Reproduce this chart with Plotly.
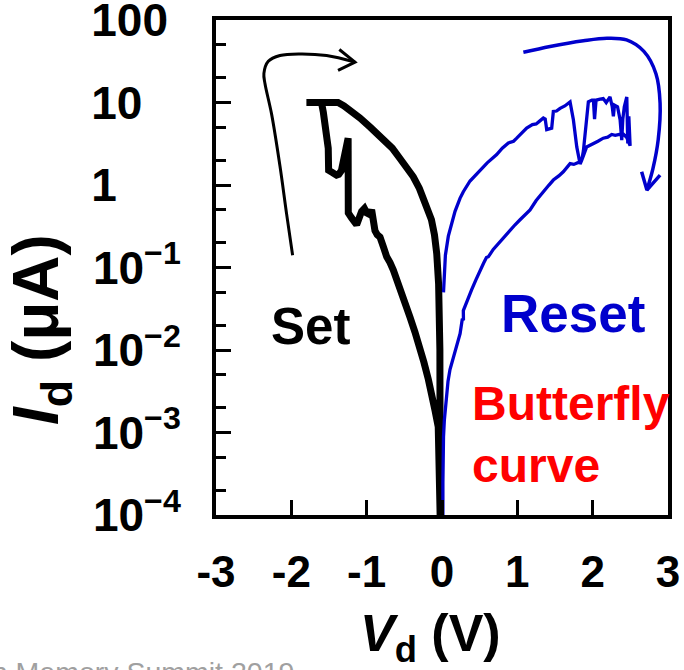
import plotly.graph_objects as go

# ---- data (V in volts, I in µA) ----
set_v = [-0.025, -0.03, -0.05, -0.093, -0.137, -0.181, -0.24, -0.292, -0.36, -0.425, -0.49, -0.558,
         -0.60, -0.646, -0.69, -0.734, -0.78, -0.823, -0.86, -0.89, -0.934, -0.96, -1.0, -1.03, -1.067,
         -1.10, -1.133, -1.2, -1.244, -1.246, -1.27, -1.30, -1.335, -1.37, -1.40, -1.45, -1.505, -1.51,
         -1.53, -1.555, -1.575, -1.60, -1.80, -1.38, -1.30, -1.20, -1.09, -0.95, -0.78, -0.66, -0.558,
         -0.46, -0.381, -0.30, -0.248, -0.20, -0.14, -0.10, -0.07, -0.045, -0.033, -0.028, -0.026, -0.025]
set_i = [0.0001, 0.001, 0.00117, 0.00186, 0.0030, 0.0044, 0.0071, 0.011, 0.0166, 0.025, 0.038, 0.059,
         0.076, 0.093, 0.115, 0.135, 0.18, 0.234, 0.25, 0.28, 0.50, 0.44, 0.46, 0.52, 0.48,
         0.40, 0.33, 0.40, 0.46, 3.7, 2.8, 1.8, 1.5, 1.35, 1.32, 1.41, 1.51, 2.8,
         4.2, 5.6, 7.6, 10.0, 10.0, 10.0, 9.1, 7.9, 6.5, 5.0, 3.6, 2.8, 2.1,
         1.6, 1.26, 0.91, 0.69, 0.51, 0.38, 0.25, 0.148, 0.063, 0.025, 0.01, 0.001, 0.0001]

reset_v = [0.02, 0.03, 0.045, 0.084, 0.13, 0.173, 0.239, 0.283, 0.372, 0.505, 0.60, 0.726, 0.80, 0.881,
           0.95, 0.992, 1.06, 1.124, 1.20, 1.25, 1.30, 1.345, 1.37, 1.39, 1.456, 1.478, 1.52, 1.567,
           1.63, 1.70, 1.744, 1.789, 1.833, 1.855, 1.877, 1.92, 1.943, 1.99, 2.01, 2.025, 2.045, 2.10,
           2.14, 2.18, 2.23, 2.26, 2.275, 2.29, 2.33, 2.364, 2.386, 2.40, 2.42, 2.453, 2.466, 2.48, 2.497,
           2.45, 2.40, 2.30, 2.253, 2.20, 2.14, 2.07, 2.01, 1.96, 1.92, 1.88, 1.855, 1.80, 1.75, 1.70,
           1.65, 1.61, 1.55, 1.478, 1.42, 1.345, 1.25, 1.169, 1.10, 1.036, 0.97, 0.903, 0.82, 0.726,
           0.68, 0.615, 0.59, 0.55, 0.505, 0.45, 0.394, 0.35, 0.30, 0.283, 0.285, 0.27, 0.24, 0.195,
           0.15, 0.106, 0.08, 0.062, 0.045, 0.031, 0.02, 0.014, 0.012, 0.012]
reset_i = [0.050, 0.089, 0.141, 0.24, 0.355, 0.48, 0.69, 0.83, 1.12, 1.51, 1.86, 2.34, 2.8, 3.24,
           3.4, 3.7, 4.3, 4.9, 5.4, 5.5, 6.0, 6.5, 6.3, 4.7, 4.9, 7.8, 7.9, 8.5,
           9.1, 10.2, 6.2, 2.9, 1.8, 2.0, 2.6, 6.2, 10.2, 10.7, 10.7, 6.3, 10.7, 11.0,
           11.2, 10.0, 11.7, 8.9, 6.8, 9.3, 8.9, 6.2, 3.5, 6.3, 8.9, 11.7, 3.2, 6.8, 3.0,
           3.8, 4.2, 4.0, 4.1, 3.8, 3.7, 3.4, 3.2, 3.0, 2.9, 2.3, 2.0, 1.86, 1.78, 1.82,
           1.58, 1.45, 1.29, 1.15, 1.0, 0.83, 0.65, 0.50, 0.44, 0.38, 0.33, 0.28, 0.234, 0.186,
           0.166, 0.135, 0.132, 0.112, 0.089, 0.071, 0.054, 0.043, 0.034, 0.030, 0.023, 0.024, 0.0158, 0.011,
           0.0079, 0.0058, 0.0042, 0.0030, 0.0021, 0.0014, 0.00089, 0.00056, 0.00025, 0.0001]

set_arrow_v = [-1.983, -2.063, -2.151, -2.262, -2.35, -2.364, -2.306, -2.151, -1.886, -1.532, -1.155]
set_arrow_i = [0.141, 0.447, 1.70, 7.24, 17.0, 22.6, 31.6, 37.2, 38.9, 37.2, 30.9]
set_head_v = [-1.363, -1.155, -1.38]
set_head_i = [44.0, 30.9, 24.5]

reset_arrow_v = [1.08, 1.434, 1.877, 2.19, 2.45, 2.68, 2.84, 2.895, 2.87, 2.80, 2.72]
reset_arrow_i = [40.7, 47.9, 56.2, 60.3, 57.5, 41.7, 22.4, 9.8, 3.55, 1.58, 0.87]
reset_head_v = [2.65, 2.72, 2.895]
reset_head_i = [1.45, 0.87, 1.32]

x_tickvals = [-3, -2, -1, 0, 1, 2, 3]
x_ticktext = ["-3", "-2", "-1", "0", "1", "2", "3"]
NB = "\u00a0"
y_tickvals = [1e-4, 1e-3, 1e-2, 1e-1, 1, 10, 100]
y_ticktext = ["10<sup>\u22124</sup>", "10<sup>\u22123</sup>", "10<sup>\u22122</sup>",
              "10<sup>\u22121</sup>", "1" + NB * 5, "10" + NB * 3, "100" + NB]

BLACK = "#000000"
BLUE = "#0000CC"
RED = "#FF0000"
FONT = "Liberation Sans, Arial, sans-serif"

fig = go.Figure()
fig.add_trace(go.Scatter(x=set_v, y=set_i, mode="lines", line=dict(color=BLACK, width=7),
                         showlegend=False, hoverinfo="skip"))
fig.add_trace(go.Scatter(x=reset_v, y=reset_i, mode="lines", line=dict(color=BLUE, width=3.3),
                         showlegend=False, hoverinfo="skip"))
fig.add_trace(go.Scatter(x=set_arrow_v, y=set_arrow_i, mode="lines",
                         line=dict(color=BLACK, width=3, shape="spline"), showlegend=False, hoverinfo="skip"))
fig.add_trace(go.Scatter(x=set_head_v, y=set_head_i, mode="lines",
                         line=dict(color=BLACK, width=3), showlegend=False, hoverinfo="skip"))
fig.add_trace(go.Scatter(x=reset_arrow_v, y=reset_arrow_i, mode="lines",
                         line=dict(color=BLUE, width=3.5, shape="spline"), showlegend=False, hoverinfo="skip"))
fig.add_trace(go.Scatter(x=reset_head_v, y=reset_head_i, mode="lines",
                         line=dict(color=BLUE, width=3.5), showlegend=False, hoverinfo="skip"))

fig.add_annotation(x=-1.75, y=-1.72, xref="x", yref="y", text="Set", showarrow=False,
                   font=dict(family=FONT, size=51, color=BLACK, weight="bold"))
fig.add_annotation(x=1.74, y=-1.56, xref="x", yref="y", text="Reset", showarrow=False,
                   font=dict(family=FONT, size=53, color=BLUE, weight="bold"))
fig.add_annotation(x=0.37, y=-3.03, xref="x", yref="y", text="Butterfly<br>curve", showarrow=False,
                   xanchor="left", align="left",
                   font=dict(family=FONT, size=48, color=RED, weight="bold"))
fig.add_annotation(x=-0.62, y=-0.28, xref="paper", yref="paper", text="Flash Memory Summit 2019",
                   showarrow=False, xanchor="left", yanchor="top",
                   font=dict(family=FONT, size=28.5, color="#A0A0A0"))
# axis titles
fig.add_annotation(x=-0.389, y=0.374, xref="paper", yref="paper", xanchor="center", yanchor="middle",
                   text="<i>I</i><sub>d</sub> (\u03bcA)", showarrow=False, textangle=-90,
                   font=dict(family=FONT, size=64, color=BLACK, weight="bold"))
fig.add_annotation(x=0.4735, y=-0.246, xref="paper", yref="paper", xanchor="center", yanchor="middle",
                   text="<i>V</i><sub>d</sub> (V)", showarrow=False,
                   font=dict(family=FONT, size=52, color=BLACK, weight="bold"))

fig.update_layout(
    width=684, height=670,
    margin=dict(l=216, r=16, t=20, b=155, autoexpand=False),
    paper_bgcolor="white", plot_bgcolor="white",
    font=dict(family=FONT, color=BLACK),
    xaxis=dict(range=[-3, 3], tickvals=x_tickvals, ticktext=x_ticktext, automargin=False,
               showgrid=False, zeroline=False, showline=True, mirror=True,
               linecolor=BLACK, linewidth=4, ticks="inside", ticklen=15, tickwidth=3,
               tickcolor=BLACK, ticklabelstandoff=15, ticklabeloverflow="allow",
               tickfont=dict(family=FONT, size=44, color=BLACK, weight="bold")),
    yaxis=dict(type="log", range=[-4, 2.001], tickvals=y_tickvals, ticktext=y_ticktext, automargin=False,
               showgrid=False, zeroline=False, showline=True, mirror=True,
               linecolor=BLACK, linewidth=4, ticks="inside", ticklen=15, tickwidth=3,
               tickcolor=BLACK, ticklabelstandoff=22, ticklabeloverflow="allow",
               minor=dict(ticks="inside", ticklen=10, tickwidth=2.5, tickcolor=BLACK, showgrid=False),
               tickfont=dict(family=FONT, size=46, color=BLACK, weight="bold")),
)

fig.write_html("out.html")
